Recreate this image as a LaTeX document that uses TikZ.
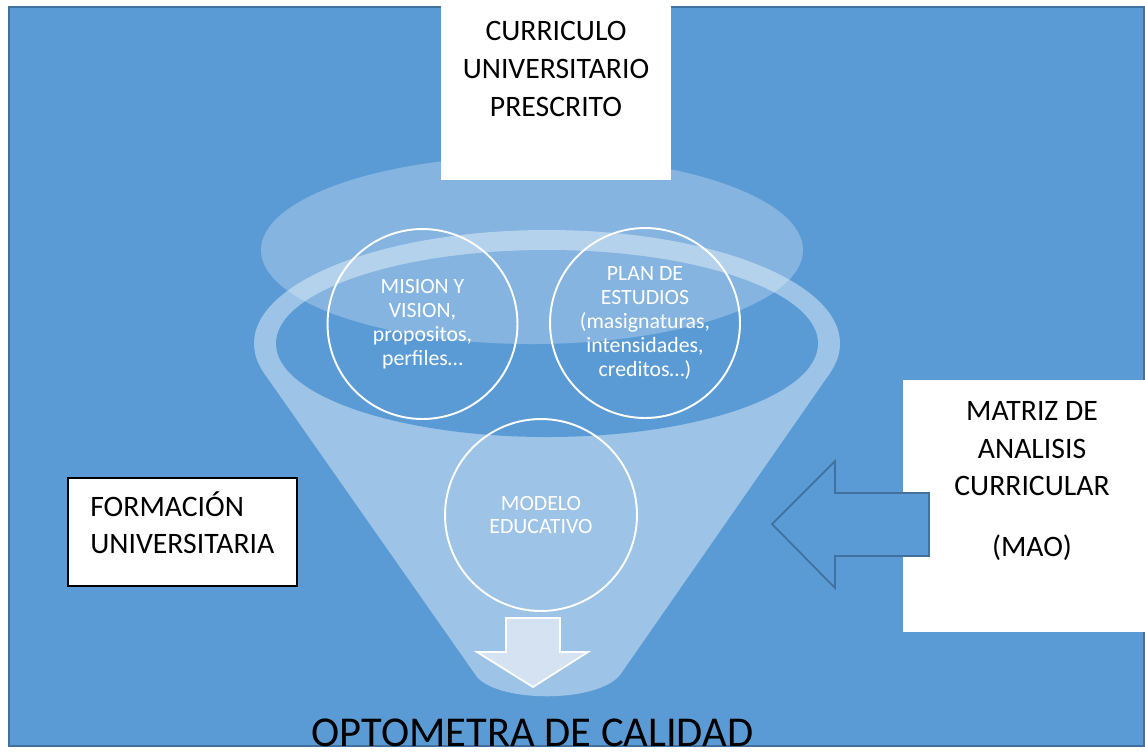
\documentclass[tikz,border=0pt]{standalone}
\usepackage{fontspec}
\setmainfont{Carlito}
\definecolor{fondo}{HTML}{5B9BD5}
\definecolor{borde}{HTML}{41719C}
\definecolor{embudo}{HTML}{9DC3E6}
\definecolor{flecha}{HTML}{D5E2F1}
\begin{document}
\begin{tikzpicture}[x=0.02cm, y=0.02cm]
\tikzstyle{every node}+=[inner sep=0pt]
\tikzstyle{circulo}=[circle, draw=white, line width=1.1pt, minimum size=3.8cm, text=white, align=center, font=\fontsize{12.4}{13.6}\selectfont]
\tikzstyle{texto}=[align=center, font=\fontsize{16.9}{21.5}\selectfont]
\useasboundingbox (0,0) rectangle (1145,-752);
\draw [borde, fill=fondo, line width=1.1pt] (9,-7) rectangle (1144,-746);
\fill [embudo] (547,-343.5) ellipse (293 and 113.5);
\fill [embudo] (264,-373) -- (477,-677) .. controls (500,-703) and (597,-703) .. (620,-675) -- (830,-373) -- cycle;
\fill [fondo] (547,-343.5) ellipse (271 and 93.5);
\fill [white, opacity=0.25] (532,-250) ellipse (271 and 94);
\node [circulo] (mision) at (422.5,-324) {MISION Y\\VISION,\\propositos,\\perfiles…};
\node [circulo] (plan) at (645,-323) {PLAN DE\\ESTUDIOS\\(masignaturas,\\intensidades,\\creditos…)};
\node [circulo, minimum size=3.84cm] (modelo) at (541,-515) {MODELO\\EDUCATIVO};
\draw [white, fill=flecha, line width=1pt] (506,-618) -- (560,-618) -- (560,-652) -- (588,-652) -- (533,-687) -- (477,-652) -- (506,-652) -- cycle;
\fill [white] (441,0) rectangle (671,-180);
\node [texto, anchor=north] (curriculo) at (556,-21) {CURRICULO\\UNIVERSITARIO\\PRESCRITO};
\fill [white] (903,-380) rectangle (1145,-632);
\node [texto, anchor=north] (matriz) at (1032,-401) {MATRIZ DE\\ANALISIS\\CURRICULAR\\[13pt](MAO)};
\draw [borde, fill=fondo, line width=1pt] (772,-524) -- (835,-461) -- (835,-493) -- (929,-493) -- (929,-556) -- (835,-556) -- (835,-588) -- cycle;
\draw [black, fill=white, line width=0.6pt] (68,-478) rectangle (297,-586);
\node [texto, align=left, anchor=south west] (formacion) at (90,-554.5) {FORMACIÓN\\UNIVERSITARIA};
\node [font=\fontsize{24.2}{28}\selectfont, anchor=base] (optometra) at (532.5,-746) {OPTOMETRA DE CALIDAD};
\end{tikzpicture}
\end{document}
